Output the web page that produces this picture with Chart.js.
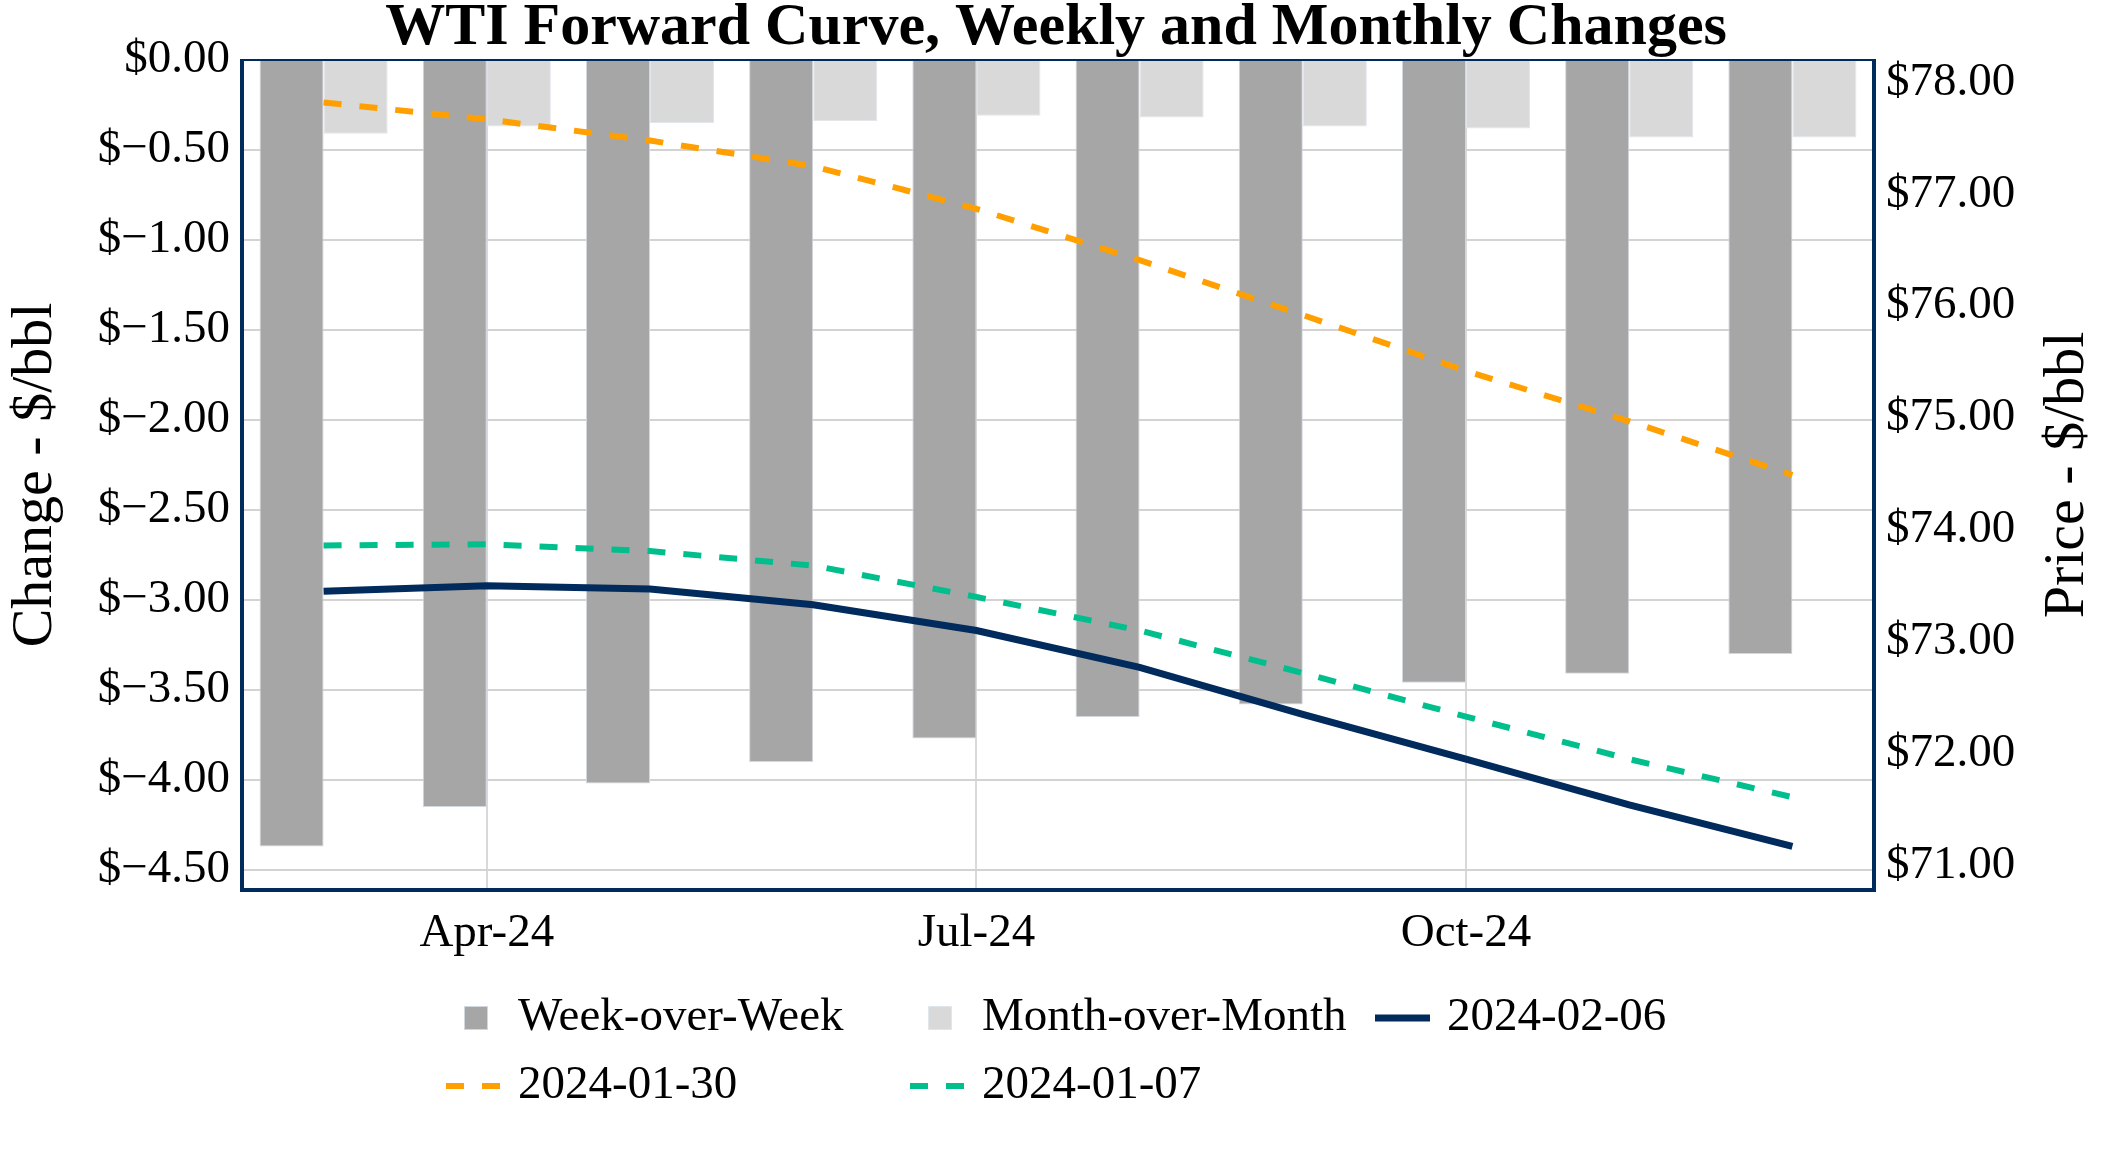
<!DOCTYPE html>
<html>
<head>
<meta charset="utf-8">
<script src="https://cdn.jsdelivr.net/npm/chart.js@4.4.1/dist/chart.umd.min.js"></script>
<style>
  html, body { margin: 0; padding: 0; background: #fff; }
  #wrap { width: 2112px; height: 1152px; }
</style>
</head>
<body>
<div id="wrap"><canvas id="chart"></canvas></div>
<script>
// contract months
const months = ['Mar-24', 'Apr-24', 'May-24', 'Jun-24', 'Jul-24', 'Aug-24', 'Sep-24', 'Oct-24', 'Nov-24', 'Dec-24'];

// changes, $/bbl (left axis)
const weekChange = [-4.37, -4.15, -4.02, -3.90, -3.77, -3.65, -3.58, -3.46, -3.41, -3.30];
const monthChange = [-0.41, -0.37, -0.35, -0.34, -0.31, -0.32, -0.37, -0.38, -0.43, -0.43];

// forward curves, $/bbl (right axis)
const curve0206 = [73.45, 73.50, 73.47, 73.33, 73.10, 72.77, 72.35, 71.95, 71.54, 71.17];
const curve0130 = [77.82, 77.67, 77.48, 77.25, 76.87, 76.41, 75.92, 75.42, 74.97, 74.49];
const curve0107 = [73.86, 73.87, 73.81, 73.68, 73.40, 73.10, 72.72, 72.33, 71.95, 71.61];

// tick labels
const changeTicks = [0, -0.5, -1, -1.5, -2, -2.5, -3, -3.5, -4, -4.5];
const priceTicks = [71, 72, 73, 74, 75, 76, 77, 78];
const shownMonths = ['Apr-24', 'Jul-24', 'Oct-24'];

const titleText = 'WTI Forward Curve, Weekly and Monthly Changes';
const leftTitle = 'Change - $/bbl';
const rightTitle = 'Price - $/bbl';

const NAVY = '#002b5c';
const SERIF = "'Liberation Serif', 'Times New Roman', serif";

Chart.defaults.font.family = SERIF;
Chart.defaults.color = '#000';

const money = (v) => {
  const s = Math.abs(v).toFixed(2);
  return v < 0 ? '$\u2212' + s : '$' + s;
};

// plot frame, drawn under the bars
const framePlugin = {
  id: 'frame',
  beforeDatasetsDraw(chart) {
    const {ctx, chartArea: a} = chart;
    ctx.save();
    ctx.strokeStyle = NAVY;
    ctx.lineWidth = 2;
    ctx.beginPath();
    ctx.moveTo(a.left, a.top);
    ctx.lineTo(a.right, a.top);
    ctx.stroke();
    ctx.lineWidth = 4;
    ctx.beginPath();
    ctx.moveTo(a.left, a.top - 1);
    ctx.lineTo(a.left, a.bottom);
    ctx.lineTo(a.right, a.bottom);
    ctx.lineTo(a.right, a.top - 1);
    ctx.stroke();
    ctx.restore();
  }
};

// right axis title (reads bottom to top) and the legend grid
const extrasPlugin = {
  id: 'extras',
  afterDraw(chart) {
    const {ctx, chartArea: a} = chart;
    ctx.save();
    ctx.fillStyle = '#000';
    ctx.font = '58px ' + SERIF;
    ctx.textAlign = 'center';
    ctx.textBaseline = 'middle';
    ctx.translate(2068, (a.top + a.bottom) / 2);
    ctx.rotate(-Math.PI / 2);
    ctx.fillText(rightTitle, 0, 0);
    ctx.restore();

    const colX = [446, 910, 1375];
    const rowY = [1018, 1086];
    ctx.save();
    ctx.font = '47px ' + SERIF;
    ctx.textBaseline = 'middle';
    ctx.textAlign = 'left';
    chart.data.datasets.forEach((ds, i) => {
      const x = colX[i % 3];
      const y = rowY[Math.floor(i / 3)];
      if (ds.type === 'line') {
        ctx.strokeStyle = ds.borderColor;
        ctx.lineWidth = ds.borderWidth;
        ctx.setLineDash(ds.borderDash || []);
        ctx.beginPath();
        ctx.moveTo(x, y);
        ctx.lineTo(x + 55, y);
        ctx.stroke();
        ctx.setLineDash([]);
      } else {
        ctx.fillStyle = ds.backgroundColor;
        ctx.fillRect(x + 18, y - 12, 24, 24);
        ctx.strokeStyle = ds.borderColor;
        ctx.lineWidth = 1;
        ctx.strokeRect(x + 18.5, y - 11.5, 23, 23);
      }
      ctx.fillStyle = '#000';
      ctx.fillText(ds.label, x + 72, y);
    });
    ctx.restore();
  }
};

new Chart(document.getElementById('chart'), {
  type: 'bar',
  data: {
    labels: months,
    datasets: [
      {
        label: 'Week-over-Week',
        data: weekChange,
        yAxisID: 'y',
        backgroundColor: '#a6a6a6',
        borderColor: '#d3d8e0',
        borderWidth: 1,
        categoryPercentage: 0.785,
        barPercentage: 1,
        order: 2
      },
      {
        label: 'Month-over-Month',
        data: monthChange,
        yAxisID: 'y',
        backgroundColor: '#d9d9d9',
        borderColor: '#e1e5ec',
        borderWidth: 1,
        categoryPercentage: 0.785,
        barPercentage: 1,
        order: 2
      },
      {
        type: 'line',
        label: '2024-02-06',
        data: curve0206,
        yAxisID: 'y1',
        borderColor: NAVY,
        borderWidth: 7,
        pointRadius: 0,
        tension: 0,
        order: 0
      },
      {
        type: 'line',
        label: '2024-01-30',
        data: curve0130,
        yAxisID: 'y1',
        borderColor: '#ff9f00',
        borderWidth: 6,
        borderDash: [18, 18],
        pointRadius: 0,
        tension: 0,
        order: 1
      },
      {
        type: 'line',
        label: '2024-01-07',
        data: curve0107,
        yAxisID: 'y1',
        borderColor: '#00bf8c',
        borderWidth: 6,
        borderDash: [18, 18],
        pointRadius: 0,
        tension: 0,
        order: 1
      }
    ]
  },
  options: {
    responsive: true,
    maintainAspectRatio: false,
    devicePixelRatio: 1,
    animation: false,
    layout: { padding: 0 },
    plugins: {
      legend: { display: false },
      tooltip: { enabled: false },
      title: {
        display: true,
        text: titleText,
        color: '#000',
        font: { size: 60, weight: 'bold', lineHeight: 1 },
        padding: { top: -2, bottom: 2 }
      }
    },
    scales: {
      x: {
        offset: true,
        afterFit(scale) { scale.height = 262; },
        grid: {
          offset: false,
          drawTicks: false,
          lineWidth: 2,
          color: (c) => shownMonths.includes(months[c.index]) ? '#d9d9d9' : 'rgba(0,0,0,0)'
        },
        border: { display: false },
        ticks: {
          autoSkip: false,
          maxRotation: 0,
          padding: 15,
          font: { size: 47 },
          callback: (v, i) => shownMonths.includes(months[i]) ? months[i] : ''
        }
      },
      y: {
        position: 'left',
        min: -4.611,
        max: 0,
        afterFit(scale) { scale.width = 242; },
        afterBuildTicks(scale) { scale.ticks = changeTicks.map(v => ({ value: v })); },
        grid: { color: '#d3d3d3', lineWidth: 2, drawTicks: false },
        border: { display: false },
        ticks: { padding: 12, font: { size: 47 }, callback: (v) => money(v) },
        title: {
          display: true,
          text: leftTitle,
          font: { size: 58, lineHeight: 1 },
          padding: { top: 7, bottom: 0 }
        }
      },
      y1: {
        position: 'right',
        min: 70.78,
        max: 78.2,
        afterFit(scale) { scale.width = 238; },
        afterBuildTicks(scale) { scale.ticks = priceTicks.map(v => ({ value: v })); },
        grid: { display: false, drawTicks: false },
        border: { display: false },
        ticks: { padding: 12, font: { size: 47 }, callback: (v) => money(v) }
      }
    }
  },
  plugins: [framePlugin, extrasPlugin]
});
</script>
</body>
</html>
